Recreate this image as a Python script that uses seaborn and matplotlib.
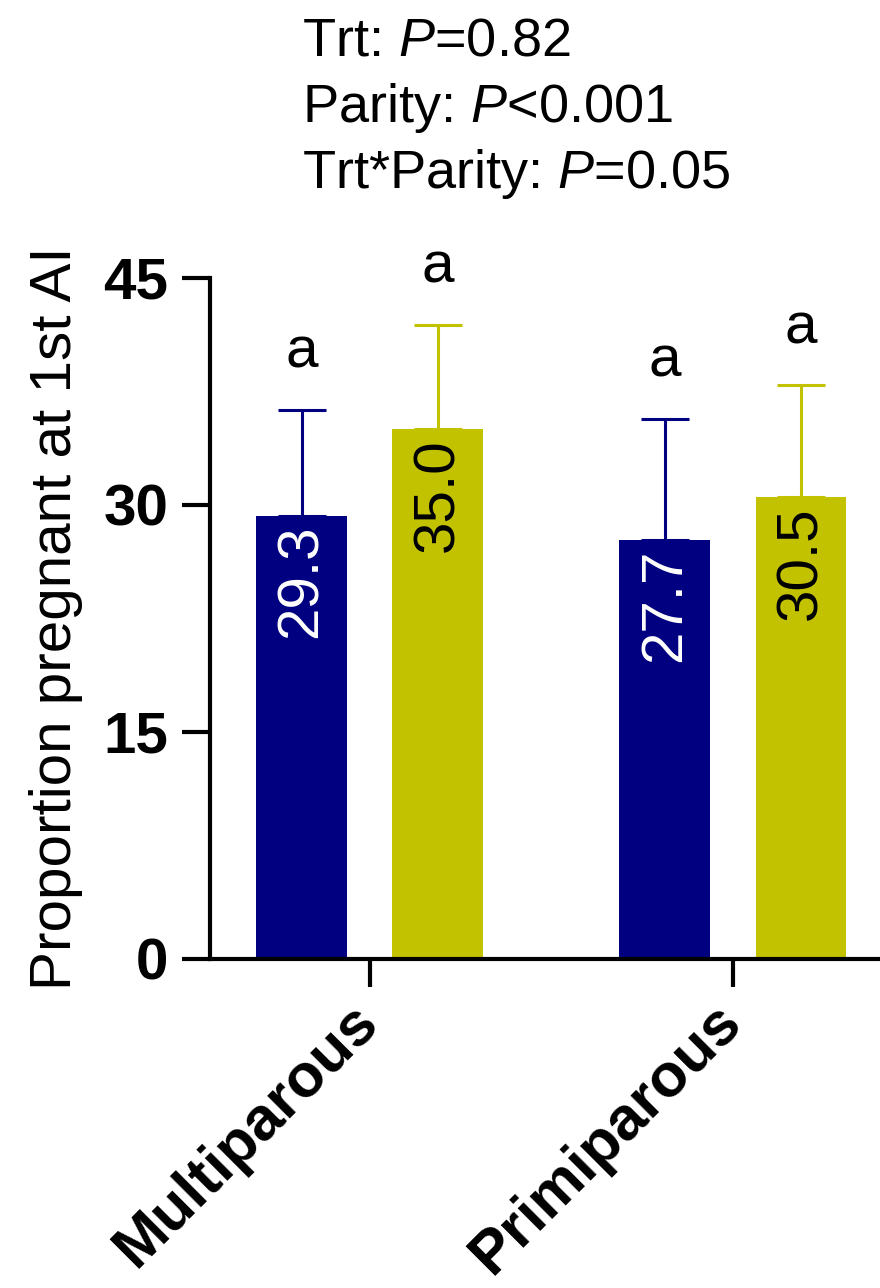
import matplotlib
matplotlib.use("Agg")
import matplotlib.pyplot as plt
import seaborn as sns
import pandas as pd

# ---- data ----
parity = ["Multiparous", "Primiparous"]
treatments = ["CON", "TRT"]
means_con = [29.3, 27.7]
means_trt = [35.0, 30.5]
err_con = [7.0, 8.0]
err_trt = [6.9, 7.4]
letters_con = ["a", "a"]
letters_trt = ["a", "a"]
yticks = [0, 15, 30, 45]
ylabel = "Proportion pregnant at 1st AI"
stats_lines = ["Trt: $\\mathit{P}$=0.82",
               "Parity: $\\mathit{P}$<0.001",
               "Trt*Parity: $\\mathit{P}$=0.05"]

# ---- style ----
sns.set_theme(style="ticks")
plt.rcParams["font.family"] = ["Liberation Sans", "DejaVu Sans"]
plt.rcParams["mathtext.fontset"] = "custom"
plt.rcParams["mathtext.rm"] = "Liberation Sans"
plt.rcParams["mathtext.it"] = "Liberation Sans:italic"
plt.rcParams["mathtext.bf"] = "Liberation Sans:bold"

colors = ["#000080", "#C2C200"]
text_colors = ["white", "black"]
FS = 42

df = pd.DataFrame({
    "Parity": parity * 2,
    "Treatment": [treatments[0]] * 2 + [treatments[1]] * 2,
    "Value": means_con + means_trt,
})
errs = [err_con, err_trt]
letters = [letters_con, letters_trt]

fig = plt.figure(figsize=(8.8, 12.88), dpi=100)
ax = fig.add_axes([210 / 880, 1 - 959 / 1288, 670 / 880, 681 / 1288])

sns.barplot(data=df, x="Parity", y="Value", hue="Treatment",
            order=parity, hue_order=treatments, palette=colors,
            width=0.75, gap=0.333, errorbar=None, saturation=1,
            legend=False, ax=ax, linewidth=0)

bar_containers = list(ax.containers)
for i, cont in enumerate(bar_containers):
    xs = [b.get_x() + b.get_width() / 2 for b in cont]
    hs = [b.get_height() for b in cont]
    ax.errorbar(xs, hs, yerr=[[0] * len(hs), errs[i]], fmt="none",
                ecolor=colors[i], elinewidth=2.2, capsize=17, capthick=2.2,
                clip_on=False, zorder=1)
    for x, h, e, let in zip(xs, hs, errs[i], letters[i]):
        ax.text(x, h - 0.6, f"{h:.1f}", rotation=90, rotation_mode="anchor",
                ha="right", va="center", color=text_colors[i], fontsize=FS)
        ax.text(x, h + e + 2.8, let, ha="center", va="baseline",
                fontsize=FS, color="black", clip_on=False)

ax.set_xlim(-0.44, 1.405)
ax.set_ylim(0, 45)
ax.set_yticks(yticks)
ax.set_xlabel("")
ax.set_ylabel(ylabel, fontsize=FS, color="black")
ax.yaxis.set_label_coords(-0.19, 0.5)

sns.despine(ax=ax)
for s in ["left", "bottom"]:
    ax.spines[s].set_linewidth(3)
    ax.spines[s].set_color("black")

ax.tick_params(axis="both", length=20, width=3, color="black",
               labelsize=FS, labelcolor="black")
ax.tick_params(axis="y", pad=10)
ax.tick_params(axis="x", pad=19, labelsize=44)
for lbl in ax.get_yticklabels():
    lbl.set_fontweight("bold")
for lbl in ax.get_xticklabels():
    lbl.set_fontweight("bold")
    lbl.set_rotation(45)
    lbl.set_ha("right")
    lbl.set_va("center")
    lbl.set_rotation_mode("anchor")

baselines = [55, 122, 188]
for line, yb in zip(stats_lines, baselines):
    fig.text(302 / 880, 1 - yb / 1288, line, fontsize=39,
             ha="left", va="baseline", color="black")

fig.savefig("out.png", dpi=100)
